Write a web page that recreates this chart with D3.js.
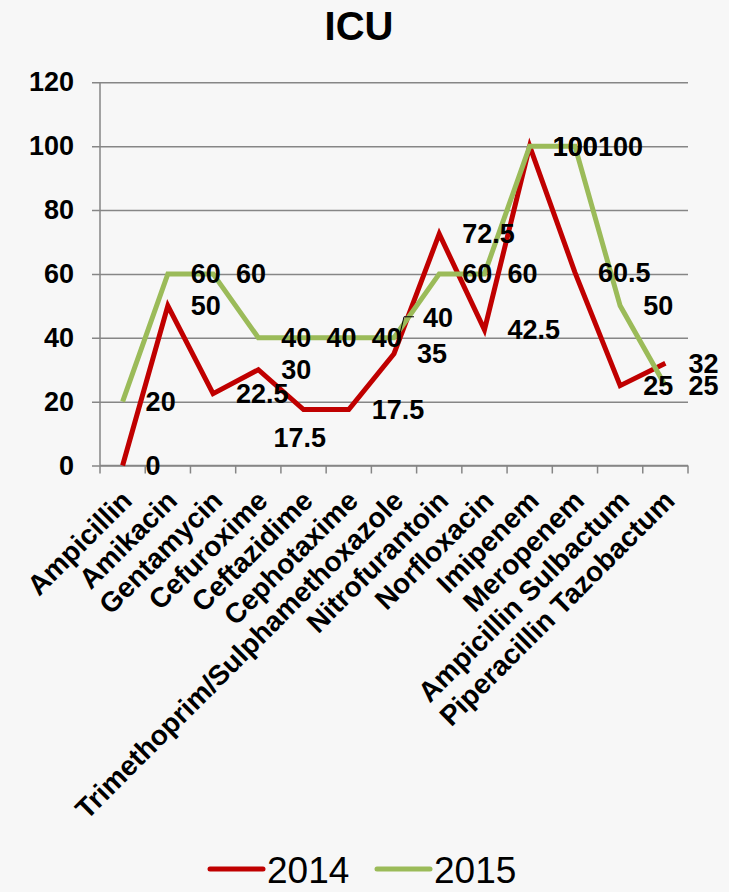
<!DOCTYPE html>
<html>
<head>
<meta charset="utf-8">
<script src="https://cdn.jsdelivr.net/npm/d3@7"></script>
<style>
  html, body { margin: 0; padding: 0; background: #f7f7f7; }
  text { font-family: Arial, "Liberation Sans", sans-serif; fill: #000; }
</style>
</head>
<body>
<svg id="chart" width="729" height="892"></svg>
<script>
const categories = [
  "Ampicillin", "Amikacin", "Gentamycin", "Cefuroxime", "Ceftazidime",
  "Cephotaxime", "Trimethoprim/Sulphamethoxazole", "Nitrofurantoin",
  "Norfloxacin", "Imipenem", "Meropenem", "Ampicillin Sulbactum",
  "Piperacillin Tazobactum"
]
const values2014 = [0, 50, 22.5, 30, 17.5, 17.5, 35, 72.5, 42.5, 100, 60.5, 25, 32]
const values2015 = [20, 60, 60, 40, 40, 40, 40, 60, 60, 100, 100, 50, 25]
const yTicks = [0, 20, 40, 60, 80, 100, 120]

const series = [
  { name: "2014", values: values2014, color: "#c00000" },
  { name: "2015", values: values2015, color: "#9bbb59" }
]

// labels that were dragged by hand in the original
const nudges = {
  "2014-4": { dx: -53, dy: 28 },
  "2015-6": { dx: 6, dy: -20, leader: true }
}

const svg = d3.select("#chart")
const plotLeft = 100, plotRight = 688, plotTop = 82.3, plotBottom = 465.5

const x = d3.scaleBand().domain(categories).range([plotLeft, plotRight])
const y = d3.scaleLinear().domain([0, 120]).range([plotBottom, plotTop])
const cx = (c) => x(c) + x.bandwidth() / 2

// title
svg.append("text")
  .attr("x", 359).attr("y", 40)
  .attr("text-anchor", "middle")
  .style("font-size", "40px").style("font-weight", "bold")
  .text("ICU")

// y axis with gridlines
const yAxis = svg.append("g")
  .attr("transform", `translate(${plotLeft},0)`)
  .call(d3.axisLeft(y).tickValues(yTicks).tickSize(8).tickPadding(18))
yAxis.select(".domain").remove()
yAxis.selectAll(".tick line")
  .attr("x2", plotRight - plotLeft)
  .attr("x1", -8)
  .attr("stroke", "#868686").attr("stroke-width", 1.5)
yAxis.selectAll(".tick text")
  .style("font-size", "27px").style("font-weight", "bold")
  .style("font-family", "Arial, 'Liberation Sans', sans-serif")
  .attr("fill", "#000")

svg.append("line")
  .attr("x1", plotLeft).attr("x2", plotLeft)
  .attr("y1", plotTop).attr("y2", plotBottom)
  .attr("stroke", "#868686").attr("stroke-width", 1.5)

// x axis: ticks at category boundaries
const xAxis = svg.append("g").attr("transform", `translate(0,${plotBottom})`)
xAxis.append("line")
  .attr("x1", plotLeft).attr("x2", plotRight)
  .attr("stroke", "#868686").attr("stroke-width", 1.5)
xAxis.selectAll("line.tick")
  .data(categories.map((c) => x(c)).concat([plotRight]))
  .join("line")
  .attr("class", "tick")
  .attr("x1", (d) => d).attr("x2", (d) => d)
  .attr("y1", 0).attr("y2", 8)
  .attr("stroke", "#868686").attr("stroke-width", 1.5)

xAxis.selectAll("text.cat")
  .data(categories)
  .join("text")
  .attr("class", "cat")
  .attr("transform", (d) => `translate(${cx(d) + 4},${30}) rotate(-45)`)
  .attr("text-anchor", "end")
  .attr("dy", "0.35em")
  .style("font-size", "28px").style("font-weight", "bold")
  .text((d) => d)

// lines
const line = d3.line()
  .x((d, i) => cx(categories[i]))
  .y((d) => y(d))

svg.selectAll("path.series")
  .data(series)
  .join("path")
  .attr("class", "series")
  .attr("d", (s) => line(s.values))
  .attr("fill", "none")
  .attr("stroke", (s) => s.color)
  .attr("stroke-width", 5)
  .attr("stroke-linejoin", "miter")

// data labels
const labels = []
series.forEach((s) => {
  s.values.forEach((v, i) => {
    const n = nudges[s.name + "-" + i] || { dx: 0, dy: 0 }
    labels.push({ v, px: cx(categories[i]), py: y(v), n })
  })
})

svg.selectAll("path.leader")
  .data(labels.filter((d) => d.n.leader))
  .join("path")
  .attr("class", "leader")
  .attr("d", (d) => {
    const ly = d.py + d.n.dy - 1
    return `M${d.px + 5},${d.py} L${d.px + 10},${ly} L${d.px + 20},${ly}`
  })
  .attr("fill", "none")
  .attr("stroke", "#000").attr("stroke-width", 1)

svg.selectAll("text.lab")
  .data(labels)
  .join("text")
  .attr("class", "lab")
  .attr("x", (d) => d.px + 23 + d.n.dx)
  .attr("y", (d) => d.py + d.n.dy)
  .attr("dy", "0.35em")
  .style("font-size", "27px").style("font-weight", "bold")
  .text((d) => d3.format("")(d.v))

// legend
const legend = svg.append("g").attr("transform", "translate(210,869)")
const item = legend.selectAll("g")
  .data(series)
  .join("g")
  .attr("transform", (d, i) => `translate(${i * 167},0)`)
item.append("line")
  .attr("x1", 0).attr("x2", 53)
  .attr("stroke", (d) => d.color)
  .attr("stroke-width", 5)
  .attr("stroke-linecap", "round")
item.append("text")
  .attr("x", 57).attr("y", 14)
  .style("font-size", "37px")
  .text((d) => d.name)
</script>
</body>
</html>
